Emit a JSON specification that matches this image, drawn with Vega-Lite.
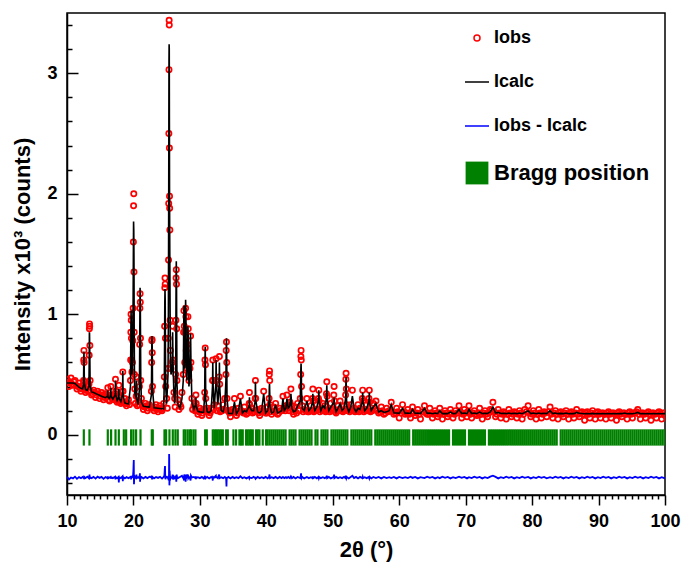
{
"$schema":"https://vega.github.io/schema/vega-lite/v6.json",
"width":598,"height":482,
"autosize":{"type":"none"},
"padding":{"left":67,"top":13,"right":21,"bottom":70},
"background":"white",
"config":{"view":{"stroke":"black","strokeWidth":1.5},"font":"Liberation Sans"},
"datasets":{
"xrd":[
{"t":10.0,"o":0.46,"c":0.43,"d":-0.35},{"t":10.3,"o":0.40,"c":0.43,"d":-0.37},{"t":10.6,"o":0.47,"c":0.43,"d":-0.355},{"t":10.9,"o":0.41,"c":0.43,"d":-0.362},
{"t":11.2,"o":0.45,"c":0.425,"d":-0.348},{"t":11.5,"o":0.38,"c":0.41,"d":-0.366},{"t":11.8,"o":0.43,"c":0.395,"d":-0.352},{"t":12.1,"o":0.36,"c":0.385,"d":-0.36},
{"t":12.35,"o":0.41,"c":0.38,"d":-0.35},{"t":12.49,"o":0.45,"c":0.42,"d":-0.358},{"t":12.52,"o":0.62,"c":0.58,"d":-0.345},{"t":12.55,"o":0.70,"c":0.69,"d":-0.355},
{"t":12.58,"o":0.60,"c":0.60,"d":-0.368},{"t":12.61,"o":0.44,"c":0.43,"d":-0.35},{"t":12.8,"o":0.35,"c":0.375,"d":-0.36},{"t":13.05,"o":0.40,"c":0.37,"d":-0.348},
{"t":13.3,"o":0.42,"c":0.40,"d":-0.362},{"t":13.34,"o":0.66,"c":0.60,"d":-0.34},{"t":13.37,"o":0.88,"c":0.85,"d":-0.35},{"t":13.39,"o":0.92,"c":0.84,"d":-0.33},
{"t":13.41,"o":0.90,"c":0.76,"d":-0.36},{"t":13.44,"o":0.74,"c":0.62,"d":-0.365},{"t":13.48,"o":0.45,"c":0.41,"d":-0.352},{"t":13.7,"o":0.33,"c":0.355,"d":-0.36},
{"t":14.0,"o":0.37,"c":0.35,"d":-0.35},{"t":14.3,"o":0.31,"c":0.343,"d":-0.364},{"t":14.6,"o":0.36,"c":0.335,"d":-0.348},{"t":14.9,"o":0.30,"c":0.328,"d":-0.358},
{"t":15.2,"o":0.35,"c":0.32,"d":-0.35},{"t":15.5,"o":0.29,"c":0.313,"d":-0.366},{"t":15.8,"o":0.34,"c":0.308,"d":-0.352},{"t":16.1,"o":0.33,"c":0.32,"d":-0.36},
{"t":16.14,"o":0.39,"c":0.37,"d":-0.345},{"t":16.18,"o":0.32,"c":0.31,"d":-0.362},{"t":16.4,"o":0.28,"c":0.30,"d":-0.355},{"t":16.56,"o":0.33,"c":0.33,"d":-0.35},
{"t":16.6,"o":0.40,"c":0.39,"d":-0.365},{"t":16.64,"o":0.32,"c":0.32,"d":-0.352},{"t":16.9,"o":0.32,"c":0.295,"d":-0.36},{"t":17.25,"o":0.34,"c":0.33,"d":-0.348},
{"t":17.3,"o":0.46,"c":0.45,"d":-0.37},{"t":17.35,"o":0.36,"c":0.33,"d":-0.352},{"t":17.55,"o":0.27,"c":0.285,"d":-0.36},{"t":17.76,"o":0.32,"c":0.31,"d":-0.35},
{"t":17.8,"o":0.41,"c":0.38,"d":-0.395},{"t":17.84,"o":0.31,"c":0.30,"d":-0.352},{"t":18.1,"o":0.26,"c":0.275,"d":-0.36},{"t":18.36,"o":0.36,"c":0.34,"d":-0.345},
{"t":18.4,"o":0.52,"c":0.53,"d":-0.385},{"t":18.44,"o":0.36,"c":0.33,"d":-0.35},{"t":18.7,"o":0.30,"c":0.265,"d":-0.362},{"t":18.95,"o":0.24,"c":0.26,"d":-0.352},
{"t":19.25,"o":0.29,"c":0.255,"d":-0.36},{"t":19.55,"o":0.45,"c":0.40,"d":-0.35},{"t":19.58,"o":0.62,"c":0.60,"d":-0.365},{"t":19.61,"o":0.85,"c":0.85,"d":-0.355},
{"t":19.64,"o":1.00,"c":1.03,"d":-0.37},{"t":19.67,"o":0.95,"c":0.95,"d":-0.34},{"t":19.7,"o":0.80,"c":0.75,"d":-0.35},{"t":19.73,"o":0.62,"c":0.58,"d":-0.36},
{"t":19.77,"o":0.52,"c":0.50,"d":-0.35},{"t":19.85,"o":0.60,"c":0.55,"d":-0.345},{"t":19.9,"o":0.78,"c":0.80,"d":-0.36},{"t":19.95,"o":1.05,"c":1.10,"d":-0.33},
{"t":19.99,"o":1.60,"c":1.50,"d":-0.30},{"t":20.02,"o":1.90,"c":1.77,"d":-0.25},{"t":20.05,"o":2.00,"c":1.70,"d":-0.21},{"t":20.08,"o":1.35,"c":1.45,"d":-0.41},
{"t":20.11,"o":0.85,"c":0.90,"d":-0.37},{"t":20.15,"o":0.50,"c":0.52,"d":-0.34},{"t":20.2,"o":0.38,"c":0.35,"d":-0.36},{"t":20.41,"o":0.32,"c":0.30,"d":-0.35},
{"t":20.45,"o":0.48,"c":0.45,"d":-0.33},{"t":20.49,"o":0.32,"c":0.30,"d":-0.36},{"t":20.7,"o":0.28,"c":0.25,"d":-0.352},{"t":20.9,"o":0.40,"c":0.38,"d":-0.36},
{"t":20.94,"o":0.75,"c":0.70,"d":-0.34},{"t":20.97,"o":1.05,"c":1.00,"d":-0.32},{"t":21.0,"o":1.17,"c":1.22,"d":-0.39},{"t":21.03,"o":1.10,"c":1.12,"d":-0.35},
{"t":21.06,"o":0.80,"c":0.85,"d":-0.37},{"t":21.1,"o":0.45,"c":0.48,"d":-0.355},{"t":21.2,"o":0.30,"c":0.27,"d":-0.35},{"t":21.5,"o":0.21,"c":0.237,"d":-0.362},
{"t":21.8,"o":0.26,"c":0.234,"d":-0.35},{"t":22.1,"o":0.20,"c":0.231,"d":-0.36},{"t":22.4,"o":0.25,"c":0.229,"d":-0.348},{"t":22.7,"o":0.36,"c":0.33,"d":-0.355},
{"t":22.74,"o":0.60,"c":0.55,"d":-0.34},{"t":22.77,"o":0.78,"c":0.78,"d":-0.35},{"t":22.8,"o":0.79,"c":0.82,"d":-0.37},{"t":22.83,"o":0.68,"c":0.70,"d":-0.36},
{"t":22.87,"o":0.40,"c":0.38,"d":-0.35},{"t":23.1,"o":0.20,"c":0.224,"d":-0.362},{"t":23.4,"o":0.25,"c":0.222,"d":-0.35},{"t":23.7,"o":0.19,"c":0.22,"d":-0.358},
{"t":24.0,"o":0.24,"c":0.218,"d":-0.35},{"t":24.3,"o":0.20,"c":0.216,"d":-0.364},{"t":24.55,"o":0.26,"c":0.215,"d":-0.35},{"t":24.65,"o":0.48,"c":0.45,"d":-0.34},
{"t":24.69,"o":0.90,"c":0.80,"d":-0.31},{"t":24.72,"o":1.22,"c":1.10,"d":-0.28},{"t":24.75,"o":1.30,"c":1.21,"d":-0.26},{"t":24.78,"o":1.25,"c":1.12,"d":-0.33},
{"t":24.81,"o":0.80,"c":0.75,"d":-0.37},{"t":24.85,"o":0.40,"c":0.40,"d":-0.355},{"t":25.0,"o":0.30,"c":0.26,"d":-0.35},{"t":25.2,"o":0.55,"c":0.50,"d":-0.36},
{"t":25.25,"o":0.80,"c":0.85,"d":-0.37},{"t":25.28,"o":1.45,"c":1.40,"d":-0.34},{"t":25.31,"o":1.92,"c":2.00,"d":-0.38},{"t":25.33,"o":2.50,"c":2.60,"d":-0.36},
{"t":25.35,"o":3.03,"c":3.10,"d":-0.33},{"t":25.37,"o":3.44,"c":3.24,"d":-0.16},{"t":25.39,"o":3.40,"c":3.20,"d":-0.2},{"t":25.41,"o":2.38,"c":2.60,"d":-0.42},
{"t":25.43,"o":1.98,"c":2.05,"d":-0.39},{"t":25.45,"o":1.88,"c":1.75,"d":-0.3},{"t":25.48,"o":1.70,"c":1.40,"d":-0.33},{"t":25.52,"o":0.95,"c":1.00,"d":-0.38},
{"t":25.56,"o":0.70,"c":0.65,"d":-0.35},{"t":25.65,"o":0.55,"c":0.50,"d":-0.36},{"t":25.85,"o":0.60,"c":0.55,"d":-0.35},{"t":25.9,"o":0.90,"c":0.85,"d":-0.33},
{"t":25.95,"o":0.62,"c":0.60,"d":-0.37},{"t":26.1,"o":0.35,"c":0.32,"d":-0.35},{"t":26.2,"o":0.30,"c":0.26,"d":-0.36},{"t":26.36,"o":0.50,"c":0.45,"d":-0.35},
{"t":26.39,"o":0.95,"c":0.90,"d":-0.34},{"t":26.42,"o":1.30,"c":1.30,"d":-0.36},{"t":26.45,"o":1.37,"c":1.44,"d":-0.39},{"t":26.48,"o":1.25,"c":1.28,"d":-0.36},
{"t":26.51,"o":0.88,"c":0.85,"d":-0.33},{"t":26.55,"o":0.45,"c":0.42,"d":-0.35},{"t":26.7,"o":0.29,"c":0.25,"d":-0.36},{"t":27.0,"o":0.25,"c":0.22,"d":-0.35},
{"t":27.3,"o":0.35,"c":0.30,"d":-0.34},{"t":27.5,"o":0.50,"c":0.45,"d":-0.36},{"t":27.55,"o":0.85,"c":0.80,"d":-0.34},{"t":27.6,"o":1.03,"c":1.07,"d":-0.38},
{"t":27.65,"o":0.90,"c":0.85,"d":-0.33},{"t":27.72,"o":0.60,"c":0.55,"d":-0.35},{"t":27.8,"o":0.85,"c":0.80,"d":-0.34},{"t":27.85,"o":1.05,"c":1.12,"d":-0.39},
{"t":27.9,"o":0.98,"c":1.00,"d":-0.35},{"t":27.95,"o":0.70,"c":0.65,"d":-0.33},{"t":28.05,"o":0.55,"c":0.45,"d":-0.35},{"t":28.15,"o":0.75,"c":0.70,"d":-0.34},
{"t":28.2,"o":0.98,"c":0.90,"d":-0.33},{"t":28.25,"o":0.88,"c":0.80,"d":-0.36},{"t":28.35,"o":0.45,"c":0.40,"d":-0.35},{"t":28.5,"o":0.55,"c":0.50,"d":-0.36},
{"t":28.6,"o":0.82,"c":0.84,"d":-0.38},{"t":28.65,"o":0.60,"c":0.62,"d":-0.34},{"t":28.8,"o":0.30,"c":0.27,"d":-0.355},{"t":29.1,"o":0.24,"c":0.21,"d":-0.35},
{"t":29.36,"o":0.26,"c":0.25,"d":-0.36},{"t":29.4,"o":0.33,"c":0.31,"d":-0.345},{"t":29.44,"o":0.26,"c":0.24,"d":-0.36},{"t":29.7,"o":0.17,"c":0.195,"d":-0.352},
{"t":30.0,"o":0.22,"c":0.19,"d":-0.36},{"t":30.3,"o":0.16,"c":0.188,"d":-0.35},{"t":30.55,"o":0.21,"c":0.187,"d":-0.362},{"t":30.72,"o":0.35,"c":0.32,"d":-0.35},
{"t":30.76,"o":0.62,"c":0.58,"d":-0.34},{"t":30.8,"o":0.72,"c":0.73,"d":-0.37},{"t":30.84,"o":0.58,"c":0.56,"d":-0.35},{"t":30.88,"o":0.30,"c":0.30,"d":-0.36},
{"t":31.1,"o":0.22,"c":0.19,"d":-0.35},{"t":31.4,"o":0.16,"c":0.184,"d":-0.362},{"t":31.7,"o":0.22,"c":0.20,"d":-0.35},{"t":31.9,"o":0.45,"c":0.40,"d":-0.36},
{"t":31.94,"o":0.62,"c":0.60,"d":-0.38},{"t":31.98,"o":0.45,"c":0.42,"d":-0.35},{"t":32.15,"o":0.25,"c":0.22,"d":-0.355},{"t":32.4,"o":0.45,"c":0.42,"d":-0.34},
{"t":32.44,"o":0.63,"c":0.62,"d":-0.36},{"t":32.48,"o":0.45,"c":0.44,"d":-0.35},{"t":32.7,"o":0.24,"c":0.25,"d":-0.36},{"t":32.9,"o":0.48,"c":0.42,"d":-0.33},
{"t":32.94,"o":0.65,"c":0.60,"d":-0.35},{"t":32.98,"o":0.42,"c":0.40,"d":-0.36},{"t":33.2,"o":0.20,"c":0.20,"d":-0.352},{"t":33.5,"o":0.25,"c":0.19,"d":-0.36},
{"t":33.75,"o":0.30,"c":0.25,"d":-0.35},{"t":33.92,"o":0.50,"c":0.45,"d":-0.36},{"t":33.96,"o":0.70,"c":0.68,"d":-0.37},{"t":34.0,"o":0.77,"c":0.80,"d":-0.43},
{"t":34.04,"o":0.60,"c":0.62,"d":-0.35},{"t":34.08,"o":0.30,"c":0.30,"d":-0.36},{"t":34.3,"o":0.20,"c":0.177,"d":-0.35},{"t":34.6,"o":0.15,"c":0.176,"d":-0.362},
{"t":34.9,"o":0.21,"c":0.175,"d":-0.35},{"t":35.2,"o":0.30,"c":0.27,"d":-0.36},{"t":35.5,"o":0.16,"c":0.174,"d":-0.352},{"t":35.8,"o":0.22,"c":0.20,"d":-0.36},
{"t":36.1,"o":0.32,"c":0.30,"d":-0.345},{"t":36.4,"o":0.19,"c":0.18,"d":-0.36},{"t":36.7,"o":0.23,"c":0.20,"d":-0.352},{"t":37.0,"o":0.17,"c":0.19,"d":-0.362},
{"t":37.42,"o":0.26,"c":0.24,"d":-0.35},{"t":37.46,"o":0.35,"c":0.31,"d":-0.36},{"t":37.5,"o":0.25,"c":0.23,"d":-0.355},{"t":37.8,"o":0.22,"c":0.20,"d":-0.36},
{"t":38.1,"o":0.19,"c":0.20,"d":-0.35},{"t":38.32,"o":0.30,"c":0.28,"d":-0.36},{"t":38.36,"o":0.45,"c":0.44,"d":-0.35},{"t":38.4,"o":0.30,"c":0.29,"d":-0.365},
{"t":38.7,"o":0.21,"c":0.19,"d":-0.35},{"t":39.0,"o":0.16,"c":0.18,"d":-0.36},{"t":39.3,"o":0.22,"c":0.20,"d":-0.352},{"t":39.6,"o":0.36,"c":0.34,"d":-0.36},
{"t":39.9,"o":0.18,"c":0.18,"d":-0.35},{"t":40.2,"o":0.23,"c":0.20,"d":-0.362},{"t":40.42,"o":0.30,"c":0.28,"d":-0.35},{"t":40.45,"o":0.50,"c":0.40,"d":-0.34},
{"t":40.48,"o":0.53,"c":0.42,"d":-0.33},{"t":40.51,"o":0.45,"c":0.35,"d":-0.35},{"t":40.55,"o":0.25,"c":0.24,"d":-0.36},{"t":40.8,"o":0.17,"c":0.18,"d":-0.352},
{"t":41.1,"o":0.23,"c":0.19,"d":-0.36},{"t":41.4,"o":0.26,"c":0.25,"d":-0.35},{"t":41.7,"o":0.17,"c":0.18,"d":-0.362},{"t":42.0,"o":0.22,"c":0.19,"d":-0.35},
{"t":42.3,"o":0.20,"c":0.20,"d":-0.36},{"t":42.5,"o":0.32,"c":0.30,"d":-0.35},{"t":42.7,"o":0.22,"c":0.20,"d":-0.36},{"t":42.95,"o":0.24,"c":0.22,"d":-0.352},
{"t":43.1,"o":0.33,"c":0.30,"d":-0.36},{"t":43.3,"o":0.25,"c":0.22,"d":-0.35},{"t":43.55,"o":0.27,"c":0.24,"d":-0.36},{"t":43.7,"o":0.38,"c":0.34,"d":-0.345},
{"t":43.85,"o":0.24,"c":0.22,"d":-0.36},{"t":44.1,"o":0.17,"c":0.19,"d":-0.35},{"t":44.4,"o":0.23,"c":0.20,"d":-0.362},{"t":44.7,"o":0.26,"c":0.24,"d":-0.35},
{"t":45.1,"o":0.30,"c":0.28,"d":-0.36},{"t":45.17,"o":0.50,"c":0.45,"d":-0.35},{"t":45.2,"o":0.65,"c":0.55,"d":-0.33},{"t":45.23,"o":0.70,"c":0.59,"d":-0.32},
{"t":45.26,"o":0.62,"c":0.52,"d":-0.35},{"t":45.3,"o":0.40,"c":0.36,"d":-0.36},{"t":45.4,"o":0.24,"c":0.22,"d":-0.35},{"t":45.7,"o":0.21,"c":0.20,"d":-0.362},
{"t":46.1,"o":0.30,"c":0.28,"d":-0.35},{"t":46.4,"o":0.19,"c":0.20,"d":-0.36},{"t":46.7,"o":0.24,"c":0.22,"d":-0.352},{"t":46.95,"o":0.30,"c":0.27,"d":-0.36},
{"t":47.0,"o":0.38,"c":0.34,"d":-0.345},{"t":47.05,"o":0.28,"c":0.26,"d":-0.36},{"t":47.3,"o":0.20,"c":0.20,"d":-0.35},{"t":47.6,"o":0.25,"c":0.23,"d":-0.362},
{"t":47.85,"o":0.30,"c":0.29,"d":-0.35},{"t":47.9,"o":0.37,"c":0.37,"d":-0.36},{"t":47.95,"o":0.28,"c":0.28,"d":-0.35},{"t":48.2,"o":0.21,"c":0.20,"d":-0.36},
{"t":48.5,"o":0.26,"c":0.24,"d":-0.352},{"t":48.8,"o":0.24,"c":0.22,"d":-0.36},{"t":49.05,"o":0.34,"c":0.31,"d":-0.35},{"t":49.1,"o":0.44,"c":0.41,"d":-0.34},
{"t":49.15,"o":0.32,"c":0.30,"d":-0.36},{"t":49.4,"o":0.21,"c":0.20,"d":-0.35},{"t":49.7,"o":0.26,"c":0.23,"d":-0.362},{"t":50.15,"o":0.33,"c":0.27,"d":-0.35},
{"t":50.2,"o":0.40,"c":0.31,"d":-0.33},{"t":50.25,"o":0.28,"c":0.25,"d":-0.36},{"t":50.5,"o":0.18,"c":0.19,"d":-0.35},{"t":50.8,"o":0.24,"c":0.22,"d":-0.36},
{"t":51.1,"o":0.28,"c":0.26,"d":-0.352},{"t":51.4,"o":0.20,"c":0.20,"d":-0.36},{"t":51.7,"o":0.24,"c":0.22,"d":-0.35},{"t":51.93,"o":0.33,"c":0.30,"d":-0.36},
{"t":51.97,"o":0.46,"c":0.42,"d":-0.34},{"t":52.0,"o":0.51,"c":0.48,"d":-0.35},{"t":52.04,"o":0.38,"c":0.36,"d":-0.36},{"t":52.1,"o":0.25,"c":0.24,"d":-0.35},
{"t":52.4,"o":0.20,"c":0.19,"d":-0.362},{"t":52.7,"o":0.25,"c":0.23,"d":-0.35},{"t":52.95,"o":0.37,"c":0.32,"d":-0.34},{"t":53.2,"o":0.22,"c":0.22,"d":-0.36},
{"t":53.5,"o":0.20,"c":0.19,"d":-0.35},{"t":53.8,"o":0.25,"c":0.22,"d":-0.362},{"t":54.1,"o":0.22,"c":0.21,"d":-0.35},{"t":54.45,"o":0.30,"c":0.28,"d":-0.36},
{"t":54.5,"o":0.37,"c":0.35,"d":-0.35},{"t":54.55,"o":0.28,"c":0.27,"d":-0.36},{"t":54.8,"o":0.21,"c":0.20,"d":-0.352},{"t":55.1,"o":0.25,"c":0.22,"d":-0.36},
{"t":55.45,"o":0.30,"c":0.28,"d":-0.35},{"t":55.5,"o":0.37,"c":0.35,"d":-0.36},{"t":55.55,"o":0.27,"c":0.26,"d":-0.35},{"t":55.8,"o":0.20,"c":0.20,"d":-0.362},
{"t":56.1,"o":0.26,"c":0.23,"d":-0.35},{"t":56.5,"o":0.28,"c":0.26,"d":-0.36},{"t":56.9,"o":0.18,"c":0.19,"d":-0.35},{"t":57.3,"o":0.23,"c":0.20,"d":-0.362},
{"t":57.7,"o":0.17,"c":0.185,"d":-0.35},{"t":58.1,"o":0.22,"c":0.19,"d":-0.36},{"t":58.5,"o":0.20,"c":0.20,"d":-0.352},{"t":58.8,"o":0.27,"c":0.25,"d":-0.36},
{"t":59.2,"o":0.17,"c":0.18,"d":-0.35},{"t":59.6,"o":0.22,"c":0.18,"d":-0.362},{"t":60.0,"o":0.14,"c":0.178,"d":-0.35},{"t":60.5,"o":0.25,"c":0.22,"d":-0.36},
{"t":60.9,"o":0.17,"c":0.178,"d":-0.352},{"t":61.3,"o":0.21,"c":0.18,"d":-0.36},{"t":61.7,"o":0.14,"c":0.177,"d":-0.348},{"t":62.0,"o":0.23,"c":0.21,"d":-0.358},
{"t":62.4,"o":0.16,"c":0.177,"d":-0.35},{"t":62.8,"o":0.21,"c":0.18,"d":-0.362},{"t":63.2,"o":0.13,"c":0.176,"d":-0.352},{"t":63.8,"o":0.24,"c":0.22,"d":-0.36},
{"t":64.2,"o":0.17,"c":0.178,"d":-0.348},{"t":64.6,"o":0.22,"c":0.18,"d":-0.358},{"t":65.0,"o":0.14,"c":0.175,"d":-0.35},{"t":65.4,"o":0.20,"c":0.18,"d":-0.362},
{"t":65.8,"o":0.15,"c":0.175,"d":-0.352},{"t":66.1,"o":0.22,"c":0.20,"d":-0.36},{"t":66.5,"o":0.13,"c":0.175,"d":-0.348},{"t":66.9,"o":0.20,"c":0.176,"d":-0.358},
{"t":67.3,"o":0.15,"c":0.175,"d":-0.35},{"t":67.7,"o":0.21,"c":0.19,"d":-0.362},{"t":68.1,"o":0.14,"c":0.175,"d":-0.352},{"t":68.5,"o":0.20,"c":0.177,"d":-0.36},
{"t":69.0,"o":0.24,"c":0.21,"d":-0.348},{"t":69.4,"o":0.14,"c":0.176,"d":-0.358},{"t":69.8,"o":0.21,"c":0.18,"d":-0.35},{"t":70.2,"o":0.15,"c":0.176,"d":-0.362},
{"t":70.5,"o":0.24,"c":0.21,"d":-0.352},{"t":70.9,"o":0.14,"c":0.176,"d":-0.36},{"t":71.3,"o":0.20,"c":0.18,"d":-0.348},{"t":71.7,"o":0.16,"c":0.175,"d":-0.358},
{"t":72.1,"o":0.22,"c":0.19,"d":-0.35},{"t":72.5,"o":0.13,"c":0.175,"d":-0.362},{"t":72.9,"o":0.20,"c":0.178,"d":-0.352},{"t":73.3,"o":0.15,"c":0.176,"d":-0.36},
{"t":73.7,"o":0.21,"c":0.19,"d":-0.348},{"t":74.1,"o":0.27,"c":0.23,"d":-0.34},{"t":74.5,"o":0.15,"c":0.18,"d":-0.35},{"t":74.9,"o":0.21,"c":0.185,"d":-0.362},
{"t":75.3,"o":0.14,"c":0.176,"d":-0.352},{"t":75.7,"o":0.19,"c":0.178,"d":-0.36},{"t":76.1,"o":0.13,"c":0.175,"d":-0.348},{"t":76.5,"o":0.21,"c":0.18,"d":-0.358},
{"t":76.9,"o":0.15,"c":0.175,"d":-0.35},{"t":77.3,"o":0.19,"c":0.178,"d":-0.362},{"t":77.7,"o":0.14,"c":0.175,"d":-0.352},{"t":78.1,"o":0.20,"c":0.18,"d":-0.36},
{"t":78.5,"o":0.13,"c":0.175,"d":-0.348},{"t":78.9,"o":0.21,"c":0.185,"d":-0.358},{"t":79.4,"o":0.24,"c":0.20,"d":-0.35},{"t":79.8,"o":0.15,"c":0.176,"d":-0.362},
{"t":80.2,"o":0.20,"c":0.18,"d":-0.352},{"t":80.6,"o":0.13,"c":0.175,"d":-0.36},{"t":81.0,"o":0.21,"c":0.18,"d":-0.348},{"t":81.4,"o":0.14,"c":0.175,"d":-0.358},
{"t":81.8,"o":0.19,"c":0.178,"d":-0.35},{"t":82.2,"o":0.15,"c":0.175,"d":-0.362},{"t":82.7,"o":0.23,"c":0.20,"d":-0.352},{"t":83.1,"o":0.14,"c":0.176,"d":-0.36},
{"t":83.5,"o":0.20,"c":0.18,"d":-0.348},{"t":83.9,"o":0.13,"c":0.175,"d":-0.358},{"t":84.3,"o":0.19,"c":0.177,"d":-0.35},{"t":84.7,"o":0.15,"c":0.175,"d":-0.362},
{"t":85.1,"o":0.20,"c":0.18,"d":-0.352},{"t":85.5,"o":0.13,"c":0.174,"d":-0.36},{"t":85.9,"o":0.19,"c":0.176,"d":-0.348},{"t":86.3,"o":0.14,"c":0.175,"d":-0.358},
{"t":86.7,"o":0.21,"c":0.185,"d":-0.35},{"t":87.1,"o":0.15,"c":0.178,"d":-0.362},{"t":87.5,"o":0.19,"c":0.176,"d":-0.352},{"t":87.9,"o":0.12,"c":0.174,"d":-0.36},
{"t":88.3,"o":0.19,"c":0.176,"d":-0.348},{"t":88.7,"o":0.14,"c":0.174,"d":-0.358},{"t":89.1,"o":0.20,"c":0.177,"d":-0.35},{"t":89.5,"o":0.13,"c":0.174,"d":-0.362},
{"t":89.9,"o":0.19,"c":0.176,"d":-0.352},{"t":90.3,"o":0.14,"c":0.174,"d":-0.36},{"t":90.7,"o":0.18,"c":0.175,"d":-0.348},{"t":91.1,"o":0.13,"c":0.174,"d":-0.358},
{"t":91.5,"o":0.19,"c":0.176,"d":-0.35},{"t":91.9,"o":0.14,"c":0.174,"d":-0.362},{"t":92.3,"o":0.18,"c":0.175,"d":-0.352},{"t":92.7,"o":0.12,"c":0.174,"d":-0.36},
{"t":93.1,"o":0.19,"c":0.176,"d":-0.348},{"t":93.5,"o":0.15,"c":0.175,"d":-0.358},{"t":93.9,"o":0.18,"c":0.18,"d":-0.35},{"t":94.3,"o":0.13,"c":0.174,"d":-0.362},
{"t":94.7,"o":0.19,"c":0.176,"d":-0.352},{"t":95.1,"o":0.14,"c":0.174,"d":-0.36},{"t":95.5,"o":0.18,"c":0.178,"d":-0.348},{"t":95.9,"o":0.21,"c":0.185,"d":-0.358},
{"t":96.3,"o":0.13,"c":0.174,"d":-0.35},{"t":96.7,"o":0.18,"c":0.175,"d":-0.362},{"t":97.1,"o":0.14,"c":0.174,"d":-0.352},{"t":97.5,"o":0.19,"c":0.176,"d":-0.36},
{"t":97.9,"o":0.12,"c":0.174,"d":-0.348},{"t":98.3,"o":0.18,"c":0.175,"d":-0.358},{"t":98.7,"o":0.14,"c":0.174,"d":-0.35},{"t":99.1,"o":0.19,"c":0.176,"d":-0.362},
{"t":99.5,"o":0.13,"c":0.174,"d":-0.352},{"t":99.9,"o":0.18,"c":0.175,"d":-0.36},{"t":100.0,"o":0.16,"c":0.175,"d":-0.355}
],
"obs2":[
{"t":10.15,"o":0.43},{"t":10.45,"o":0.44},{"t":10.75,"o":0.42},{"t":11.05,"o":0.44},{"t":11.35,"o":0.41},{"t":11.65,"o":0.40},{"t":11.95,"o":0.39},{"t":12.22,"o":0.38},
{"t":12.7,"o":0.37},{"t":12.92,"o":0.38},{"t":13.18,"o":0.36},{"t":13.6,"o":0.36},{"t":13.85,"o":0.34},{"t":14.15,"o":0.35},{"t":14.45,"o":0.33},{"t":14.75,"o":0.34},
{"t":15.05,"o":0.32},{"t":15.35,"o":0.33},{"t":15.65,"o":0.31},{"t":15.95,"o":0.31},{"t":16.28,"o":0.29},{"t":16.78,"o":0.30},{"t":17.1,"o":0.29},{"t":17.45,"o":0.29},
{"t":17.68,"o":0.28},{"t":17.95,"o":0.28},{"t":18.25,"o":0.27},{"t":18.55,"o":0.27},{"t":18.82,"o":0.26},{"t":19.1,"o":0.26},{"t":19.4,"o":0.25},{"t":20.3,"o":0.26},
{"t":20.58,"o":0.24},{"t":20.8,"o":0.25},{"t":21.35,"o":0.24},{"t":21.65,"o":0.23},{"t":21.95,"o":0.24},{"t":22.25,"o":0.22},{"t":22.55,"o":0.23},{"t":22.98,"o":0.22},
{"t":23.25,"o":0.23},{"t":23.55,"o":0.21},{"t":23.85,"o":0.22},{"t":24.15,"o":0.21},{"t":24.42,"o":0.22},{"t":25.1,"o":0.22},{"t":26.28,"o":0.23},{"t":26.85,"o":0.21},
{"t":27.15,"o":0.23},{"t":28.9,"o":0.21},{"t":29.25,"o":0.20},{"t":29.55,"o":0.20},{"t":29.85,"o":0.19},{"t":30.15,"o":0.20},{"t":30.42,"o":0.18},{"t":30.98,"o":0.20},
{"t":31.25,"o":0.19},{"t":31.55,"o":0.18},{"t":32.05,"o":0.21},{"t":32.58,"o":0.20},{"t":33.05,"o":0.19},{"t":33.35,"o":0.20},{"t":33.62,"o":0.21},{"t":34.18,"o":0.20},
{"t":34.45,"o":0.18},{"t":34.75,"o":0.19},{"t":35.05,"o":0.19},{"t":35.35,"o":0.20},{"t":35.65,"o":0.18},{"t":35.95,"o":0.19},{"t":36.25,"o":0.20},{"t":36.55,"o":0.18},
{"t":36.85,"o":0.19},{"t":37.2,"o":0.18},{"t":37.65,"o":0.20},{"t":37.95,"o":0.18},{"t":38.22,"o":0.19},{"t":38.55,"o":0.20},{"t":38.85,"o":0.18},{"t":39.15,"o":0.19},
{"t":39.45,"o":0.20},{"t":39.75,"o":0.19},{"t":40.05,"o":0.18},{"t":40.65,"o":0.19},{"t":40.95,"o":0.20},{"t":41.25,"o":0.19},{"t":41.55,"o":0.20},{"t":41.85,"o":0.18},
{"t":42.15,"o":0.20},{"t":42.6,"o":0.21},{"t":42.85,"o":0.20},{"t":43.2,"o":0.22},{"t":43.45,"o":0.20},{"t":43.98,"o":0.19},{"t":44.25,"o":0.20},{"t":44.55,"o":0.18},
{"t":44.9,"o":0.20},{"t":45.55,"o":0.19},{"t":45.9,"o":0.20},{"t":46.25,"o":0.19},{"t":46.55,"o":0.20},{"t":46.82,"o":0.20},{"t":47.15,"o":0.19},{"t":47.45,"o":0.20},
{"t":47.72,"o":0.21},{"t":48.05,"o":0.19},{"t":48.35,"o":0.20},{"t":48.65,"o":0.20},{"t":48.92,"o":0.19},{"t":49.25,"o":0.20},{"t":49.55,"o":0.19},{"t":49.9,"o":0.20},
{"t":50.05,"o":0.21},{"t":50.38,"o":0.19},{"t":50.65,"o":0.20},{"t":50.95,"o":0.21},{"t":51.25,"o":0.20},{"t":51.55,"o":0.19},{"t":51.82,"o":0.21},{"t":52.25,"o":0.20},
{"t":52.55,"o":0.19},{"t":52.82,"o":0.21},{"t":53.08,"o":0.20},{"t":53.35,"o":0.19},{"t":53.65,"o":0.20},{"t":53.95,"o":0.19},{"t":54.28,"o":0.20},{"t":54.68,"o":0.19},
{"t":54.95,"o":0.20},{"t":55.3,"o":0.20},{"t":55.68,"o":0.19},{"t":55.95,"o":0.20},{"t":56.3,"o":0.21},{"t":56.7,"o":0.20},{"t":57.1,"o":0.19},{"t":57.5,"o":0.20},
{"t":57.9,"o":0.18},{"t":58.3,"o":0.19},{"t":58.65,"o":0.20},{"t":59.0,"o":0.19},{"t":59.4,"o":0.18},{"t":59.8,"o":0.19},{"t":60.25,"o":0.18},{"t":60.7,"o":0.19},
{"t":61.1,"o":0.18},{"t":61.5,"o":0.17},{"t":61.85,"o":0.19},{"t":62.2,"o":0.18},{"t":62.6,"o":0.18},{"t":63.0,"o":0.17},{"t":63.5,"o":0.19},{"t":64.0,"o":0.18},
{"t":64.4,"o":0.17},{"t":64.8,"o":0.18},{"t":65.2,"o":0.17},{"t":65.6,"o":0.18},{"t":65.95,"o":0.17},{"t":66.3,"o":0.18},{"t":66.7,"o":0.17},{"t":67.1,"o":0.18},
{"t":67.5,"o":0.17},{"t":67.9,"o":0.18},{"t":68.3,"o":0.17},{"t":68.75,"o":0.18},{"t":69.2,"o":0.19},{"t":69.6,"o":0.17},{"t":70.0,"o":0.18},{"t":70.35,"o":0.19},
{"t":70.7,"o":0.17},{"t":71.1,"o":0.18},{"t":71.5,"o":0.17},{"t":71.9,"o":0.18},{"t":72.3,"o":0.17},{"t":72.7,"o":0.18},{"t":73.1,"o":0.17},{"t":73.5,"o":0.18},
{"t":73.9,"o":0.20},{"t":74.3,"o":0.19},{"t":74.7,"o":0.17},{"t":75.1,"o":0.18},{"t":75.5,"o":0.17},{"t":75.9,"o":0.18},{"t":76.3,"o":0.17},{"t":76.7,"o":0.18},
{"t":77.1,"o":0.17},{"t":77.5,"o":0.18},{"t":77.9,"o":0.17},{"t":78.3,"o":0.18},{"t":78.7,"o":0.17},{"t":79.15,"o":0.19},{"t":79.6,"o":0.18},{"t":80.0,"o":0.17},
{"t":80.4,"o":0.18},{"t":80.8,"o":0.17},{"t":81.2,"o":0.18},{"t":81.6,"o":0.17},{"t":82.0,"o":0.18},{"t":82.45,"o":0.19},{"t":82.9,"o":0.17},{"t":83.3,"o":0.18},
{"t":83.7,"o":0.17},{"t":84.1,"o":0.18},{"t":84.5,"o":0.17},{"t":84.9,"o":0.18},{"t":85.3,"o":0.17},{"t":85.7,"o":0.18},{"t":86.1,"o":0.17},{"t":86.5,"o":0.18},
{"t":86.9,"o":0.17},{"t":87.3,"o":0.18},{"t":87.7,"o":0.17},{"t":88.1,"o":0.18},{"t":88.5,"o":0.17},{"t":88.9,"o":0.18},{"t":89.3,"o":0.17},{"t":89.7,"o":0.18},
{"t":90.1,"o":0.17},{"t":90.5,"o":0.18},{"t":90.9,"o":0.17},{"t":91.3,"o":0.18},{"t":91.7,"o":0.17},{"t":92.1,"o":0.18},{"t":92.5,"o":0.17},{"t":92.9,"o":0.18},
{"t":93.3,"o":0.17},{"t":93.7,"o":0.18},{"t":94.1,"o":0.17},{"t":94.5,"o":0.18},{"t":94.9,"o":0.17},{"t":95.3,"o":0.18},{"t":95.7,"o":0.19},{"t":96.1,"o":0.17},
{"t":96.5,"o":0.18},{"t":96.9,"o":0.17},{"t":97.3,"o":0.18},{"t":97.7,"o":0.17},{"t":98.1,"o":0.18},{"t":98.5,"o":0.17},{"t":98.9,"o":0.18},{"t":99.3,"o":0.17},
{"t":99.7,"o":0.18}
],
"bragg":[
{"b":12.53},{"b":13.38},{"b":16.14},{"b":16.64},{"b":17.3},{"b":17.8},{"b":18.55},{"b":18.9},{"b":19.65},{"b":20.0},{"b":20.4},{"b":21.06},
{"b":22.76},{"b":22.91},{"b":24.67},{"b":24.92},{"b":25.42},{"b":25.92},{"b":26.32},{"b":26.67},{"b":27.57},{"b":27.83},{"b":28.17},{"b":28.5},
{"b":28.68},{"b":29.03},{"b":29.33},{"b":30.79},{"b":31.04},{"b":31.94},{"b":32.19},{"b":32.44},{"b":32.69},{"b":32.94},{"b":33.2},{"b":33.45},
{"b":33.95},{"b":34.2},{"b":35.05},{"b":35.45},{"b":35.95},{"b":36.2},{"b":36.45},{"b":36.95},{"b":37.2},{"b":37.46},{"b":37.7},{"b":37.96},
{"b":38.46},{"b":38.71},{"b":38.96},{"b":39.46},{"b":39.96},
{"b":40.2},{"b":40.5},{"b":40.8},{"b":41.1},{"b":41.4},{"b":41.7},{"b":42.0},{"b":42.3},{"b":42.6},{"b":42.9},{"b":43.5},{"b":43.8},{"b":44.1},{"b":44.4},
{"b":45.0},{"b":45.3},{"b":45.6},{"b":45.9},{"b":46.2},{"b":46.5},{"b":46.8},{"b":47.4},{"b":47.7},{"b":48.3},{"b":48.6},{"b":48.9},{"b":49.2},
{"b":49.8},{"b":50.1},{"b":50.4},{"b":50.7},{"b":51.0},{"b":51.3},{"b":51.6},{"b":51.9},{"b":52.2},{"b":52.8},{"b":53.1},{"b":53.4},{"b":53.7},
{"b":54.0},{"b":54.3},{"b":54.6},{"b":54.9},{"b":55.2},{"b":55.5},{"b":55.8},{"b":56.4},{"b":56.7},{"b":57.0},{"b":57.3},{"b":57.6},{"b":57.9},
{"b":58.2},{"b":58.5},{"b":58.8},{"b":59.1},{"b":59.4},{"b":59.7},{"b":60.0},{"b":60.3},{"b":60.6},{"b":60.9},{"b":61.2},{"b":61.5},{"b":62.1},
{"b":62.4},{"b":62.7},{"b":63.0},{"b":63.3},{"b":63.6},{"b":63.9},{"b":64.2},{"b":64.5},{"b":64.8},{"b":65.1},{"b":65.4},{"b":65.7},{"b":66.0},
{"b":66.3},{"b":66.6},{"b":66.9},{"b":67.2},{"b":67.5},{"b":68.1},{"b":68.4},{"b":68.7},{"b":69.0},{"b":69.3},{"b":69.6},{"b":69.9},{"b":70.5},
{"b":70.8},{"b":71.1},{"b":71.4},{"b":71.7},{"b":72.0},{"b":72.3},{"b":72.6},{"b":72.9},{"b":73.5},{"b":73.8},{"b":74.1},{"b":74.4},{"b":74.7},
{"b":75.0},{"b":75.3},{"b":75.6},{"b":75.9},{"b":76.2},{"b":76.5},{"b":76.8},{"b":77.1},{"b":77.4},{"b":77.7},{"b":78.0},{"b":78.3},{"b":78.6},
{"b":78.9},{"b":79.2},{"b":79.5},{"b":79.8},{"b":80.1},{"b":80.4},{"b":80.7},{"b":81.0},{"b":81.3},{"b":81.6},{"b":81.9},{"b":82.2},{"b":82.5},
{"b":82.8},{"b":83.1},{"b":83.4},{"b":83.7},{"b":84.3},{"b":84.6},{"b":84.9},{"b":85.2},{"b":85.5},{"b":85.8},{"b":86.1},{"b":86.4},{"b":86.7},
{"b":87.0},{"b":87.3},{"b":87.6},{"b":87.9},{"b":88.2},{"b":88.5},{"b":88.8},{"b":89.1},{"b":89.4},{"b":89.7},{"b":90.0},{"b":90.3},{"b":90.6},
{"b":90.9},{"b":91.2},{"b":91.5},{"b":91.8},{"b":92.1},{"b":92.4},{"b":92.7},{"b":93.0},{"b":93.3},{"b":93.6},{"b":93.9},{"b":94.2},{"b":94.5},
{"b":94.8},{"b":95.1},{"b":95.4},{"b":95.7},{"b":96.0},{"b":96.3},{"b":96.6},{"b":96.9},{"b":97.2},{"b":97.5},{"b":97.8},{"b":98.1},{"b":98.4},
{"b":98.7},{"b":99.0},{"b":99.3},{"b":99.6},{"b":99.9}
]
},
"layer":[
{"data":{"name":"bragg"},
 "mark":{"type":"rule","strokeWidth":2.2,"clip":true},
 "encoding":{
  "x":{"field":"b","type":"quantitative","title":"2θ (°)","scale":{"domain":[10,100],"nice":false,"zero":false},
   "axis":{"title":"2θ (°)","tickCount":90,"labelExpr":"datum.value % 10 === 0 ? datum.label : ''",
    "tickSize":{"condition":{"test":"datum.value % 10 === 0","value":10},"value":4},
    "labelOverlap":false,"labelFlush":false,"grid":false,
    "labelFont":"Liberation Sans","labelFontWeight":"bold","labelFontSize":18,"labelColor":"black","labelPadding":7,
    "titleFont":"Liberation Sans","titleFontWeight":"bold","titleFontSize":22,"titleColor":"black","titlePadding":9,
    "tickColor":"black","tickWidth":1.5,"domainColor":"black","domainWidth":1.5}},
  "y":{"datum":0.045,"type":"quantitative","title":"Intensity x10³ (counts)","scale":{"domain":[-0.5,3.5],"nice":false,"zero":false},
   "axis":{"title":"Intensity x10³ (counts)","tickCount":20,
    "labelExpr":"abs(datum.value - round(datum.value)) < 0.001 ? format(datum.value, 'd') : ''",
    "tickSize":{"condition":{"test":"abs(datum.value - round(datum.value)) < 0.001","value":-11},"value":-5},
    "labelOverlap":false,"grid":false,
    "labelFont":"Liberation Sans","labelFontWeight":"bold","labelFontSize":18,"labelColor":"black","labelPadding":21,
    "titleFont":"Liberation Sans","titleFontWeight":"bold","titleFontSize":22,"titleColor":"black","titlePadding":12,
    "tickColor":"black","tickWidth":1.5,"domainColor":"black","domainWidth":1.5}},
  "y2":{"datum":-0.09},
  "color":{"datum":"Bragg position","type":"nominal",
   "scale":{"domain":["Iobs","Icalc","Iobs - Icalc","Bragg position"],"range":["#ff0000","#000000","#0000ff","#008000"]},
   "legend":{"orient":"none","legendX":401,"legendY":16,"title":null,
    "labelFont":"Liberation Sans","labelFontWeight":"bold","labelFontSize":18,"labelColor":"black","labelLimit":300,
    "symbolSize":576,"rowPadding":26,"labelOffset":8,
    "encode":{
     "symbols":{"update":{
      "shape":{"signal":"datum.value === 'Iobs' ? 'circle' : datum.value === 'Bragg position' ? 'square' : 'stroke'"},
      "size":{"signal":"datum.value === 'Iobs' ? 36 : datum.value === 'Bragg position' ? 520 : 576"},
      "fill":{"signal":"datum.value === 'Bragg position' ? '#008000' : 'transparent'"},
      "stroke":{"signal":"datum.value === 'Iobs' ? '#ff0000' : datum.value === 'Icalc' ? '#000000' : datum.value === 'Bragg position' ? '#008000' : '#0000ff'"},
      "strokeWidth":{"signal":"datum.value === 'Bragg position' ? 0 : 1.5"},
      "opacity":{"value":1}}},
     "labels":{"update":{"fontSize":{"signal":"datum.value === 'Bragg position' ? 22 : 18"}}}}}}
 }},
{"data":{"name":"xrd"},
 "mark":{"type":"line","strokeWidth":1.8,"clip":true},
 "encoding":{
  "x":{"field":"t","type":"quantitative","title":"2θ (°)"},
  "y":{"field":"d","type":"quantitative","title":"Intensity x10³ (counts)"},
  "color":{"datum":"Iobs - Icalc","type":"nominal"}}},
{"data":{"name":"obs2"},
 "mark":{"type":"point","filled":false,"size":28,"strokeWidth":1.7,"opacity":1,"clip":true},
 "encoding":{
  "x":{"field":"t","type":"quantitative","title":"2θ (°)"},
  "y":{"field":"o","type":"quantitative","title":"Intensity x10³ (counts)"},
  "color":{"datum":"Iobs","type":"nominal"}}},
{"data":{"name":"xrd"},
 "mark":{"type":"point","filled":false,"size":28,"strokeWidth":1.7,"opacity":1,"clip":true},
 "encoding":{
  "x":{"field":"t","type":"quantitative","title":"2θ (°)"},
  "y":{"field":"o","type":"quantitative","title":"Intensity x10³ (counts)"},
  "color":{"datum":"Iobs","type":"nominal"}}},
{"data":{"name":"xrd"},
 "mark":{"type":"line","strokeWidth":1.6,"clip":true},
 "encoding":{
  "x":{"field":"t","type":"quantitative","title":"2θ (°)"},
  "y":{"field":"c","type":"quantitative","title":"Intensity x10³ (counts)"},
  "color":{"datum":"Icalc","type":"nominal"}}}
]
}
